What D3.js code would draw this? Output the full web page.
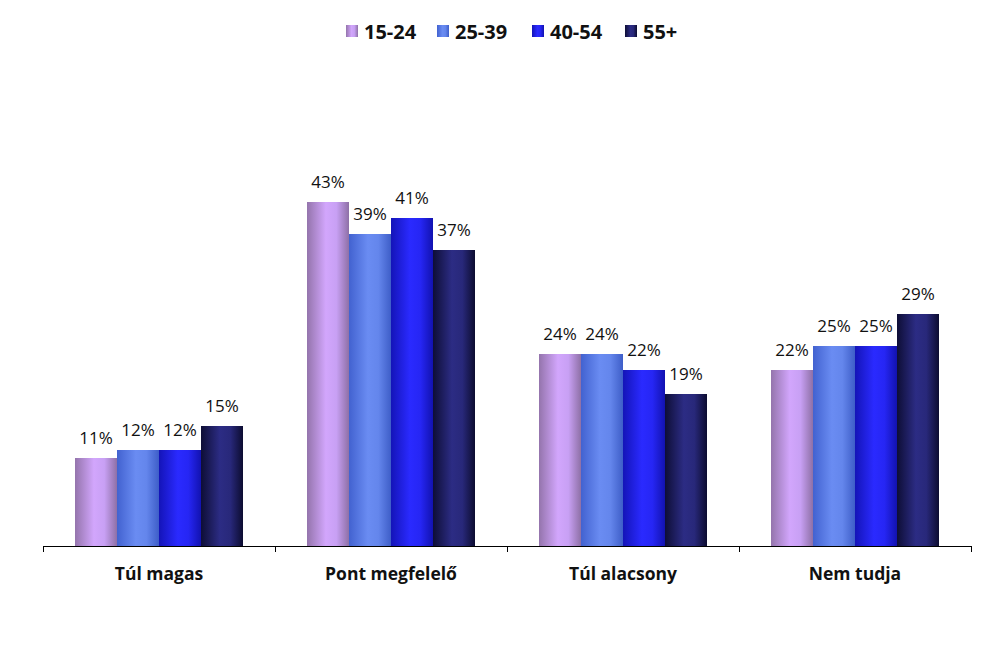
<!DOCTYPE html>
<html><head><meta charset="utf-8">
<script src="https://cdn.jsdelivr.net/npm/d3@7"></script>
<style>body{margin:0;background:#fff}svg{display:block}</style>
</head><body>
<svg id="c" width="1008" height="661"></svg>
<script>
const categories = ["Túl magas", "Pont megfelelő", "Túl alacsony", "Nem tudja"];
const seriesNames = ["15-24", "25-39", "40-54", "55+"];
const s1524 = [11, 43, 24, 22];
const s2539 = [12, 39, 24, 25];
const s4054 = [12, 41, 22, 25];
const s55 = [15, 37, 19, 29];
const seriesValues = [s1524, s2539, s4054, s55];
const yTicks = [0, 10, 20, 30, 40, 50];

const gradStops = [
  ["#9474ac", "#d2a6fc", "#c8a0f4", "#8e70a6"],
  ["#4262d0", "#6a8cf2", "#6486ec", "#3e5ec8"],
  ["#1414b8", "#2a2aff", "#2626f4", "#1212b0"],
  ["#0e0e36", "#2c2c84", "#28287a", "#0c0c30"]
];

const svg = d3.select("#c");
const defs = svg.append("defs");
gradStops.forEach((st, i) => {
  const g = defs.append("linearGradient").attr("id", "g" + i).attr("x1", "0").attr("x2", "1").attr("y1", "0").attr("y2", "0");
  [0, 0.45, 0.7, 1].forEach((o, k) => g.append("stop").attr("offset", o).attr("stop-color", st[k]));
});

const left = 43, right = 971, base = 546;
const x0 = d3.scaleBand().domain(categories).range([left, right]).paddingInner(0).paddingOuter(0);
const x1 = d3.scaleBand().domain(seriesNames).range([32, 232 - 32]);
const y = d3.scaleLinear().domain([0, 50]).range([base, base - 400]);

const groups = svg.append("g").selectAll("g").data(categories).join("g")
  .attr("transform", d => `translate(${x0(d)},0)`);

groups.each(function(cat, ci) {
  const g = d3.select(this);
  seriesNames.forEach((s, si) => {
    const v = seriesValues[si][ci];
    g.append("rect").attr("x", x1(s)).attr("width", x1.bandwidth())
      .attr("y", y(v)).attr("height", base - y(v)).attr("fill", `url(#g${si})`);
    g.append("text").attr("x", x1(s) + x1.bandwidth() / 2).attr("y", y(v) - 14)
      .attr("text-anchor", "middle").attr("font-family", "Open Sans, sans-serif")
      .attr("font-size", 17).attr("fill", "#111").text(v + "%");
  });
});

const xAxis = d3.axisBottom(x0).tickSize(0).tickFormat("");
const ax = svg.append("g").attr("transform", `translate(0,${base})`).call(xAxis);
ax.select(".domain").attr("stroke", "#000").attr("d", `M${left},0.5H${right}`);
const bounds = d3.range(categories.length + 1).map(i => left + i * x0.step());
svg.append("g").selectAll("line").data(bounds).join("line")
  .attr("x1", d => d + 0.5).attr("x2", d => d + 0.5).attr("y1", base).attr("y2", base + 6)
  .attr("stroke", "#000");
svg.append("g").selectAll("text").data(categories).join("text")
  .attr("x", d => x0(d) + x0.bandwidth() / 2).attr("y", 579.5)
  .attr("text-anchor", "middle").attr("font-family", "Open Sans, sans-serif")
  .attr("font-weight", "bold").attr("font-size", 17.5).attr("fill", "#111").text(d => d);

// legend
const legX = [346, 437, 532, 625];
const leg = svg.append("g");
seriesNames.forEach((s, i) => {
  leg.append("rect").attr("x", legX[i]).attr("y", 25).attr("width", 12).attr("height", 12).attr("fill", `url(#g${i})`);
  leg.append("text").attr("x", legX[i] + 18).attr("y", 38.5).attr("font-family", "Open Sans, sans-serif")
    .attr("font-weight", "bold").attr("font-size", 20).attr("fill", "#111").text(s);
});
</script>
</body></html>
